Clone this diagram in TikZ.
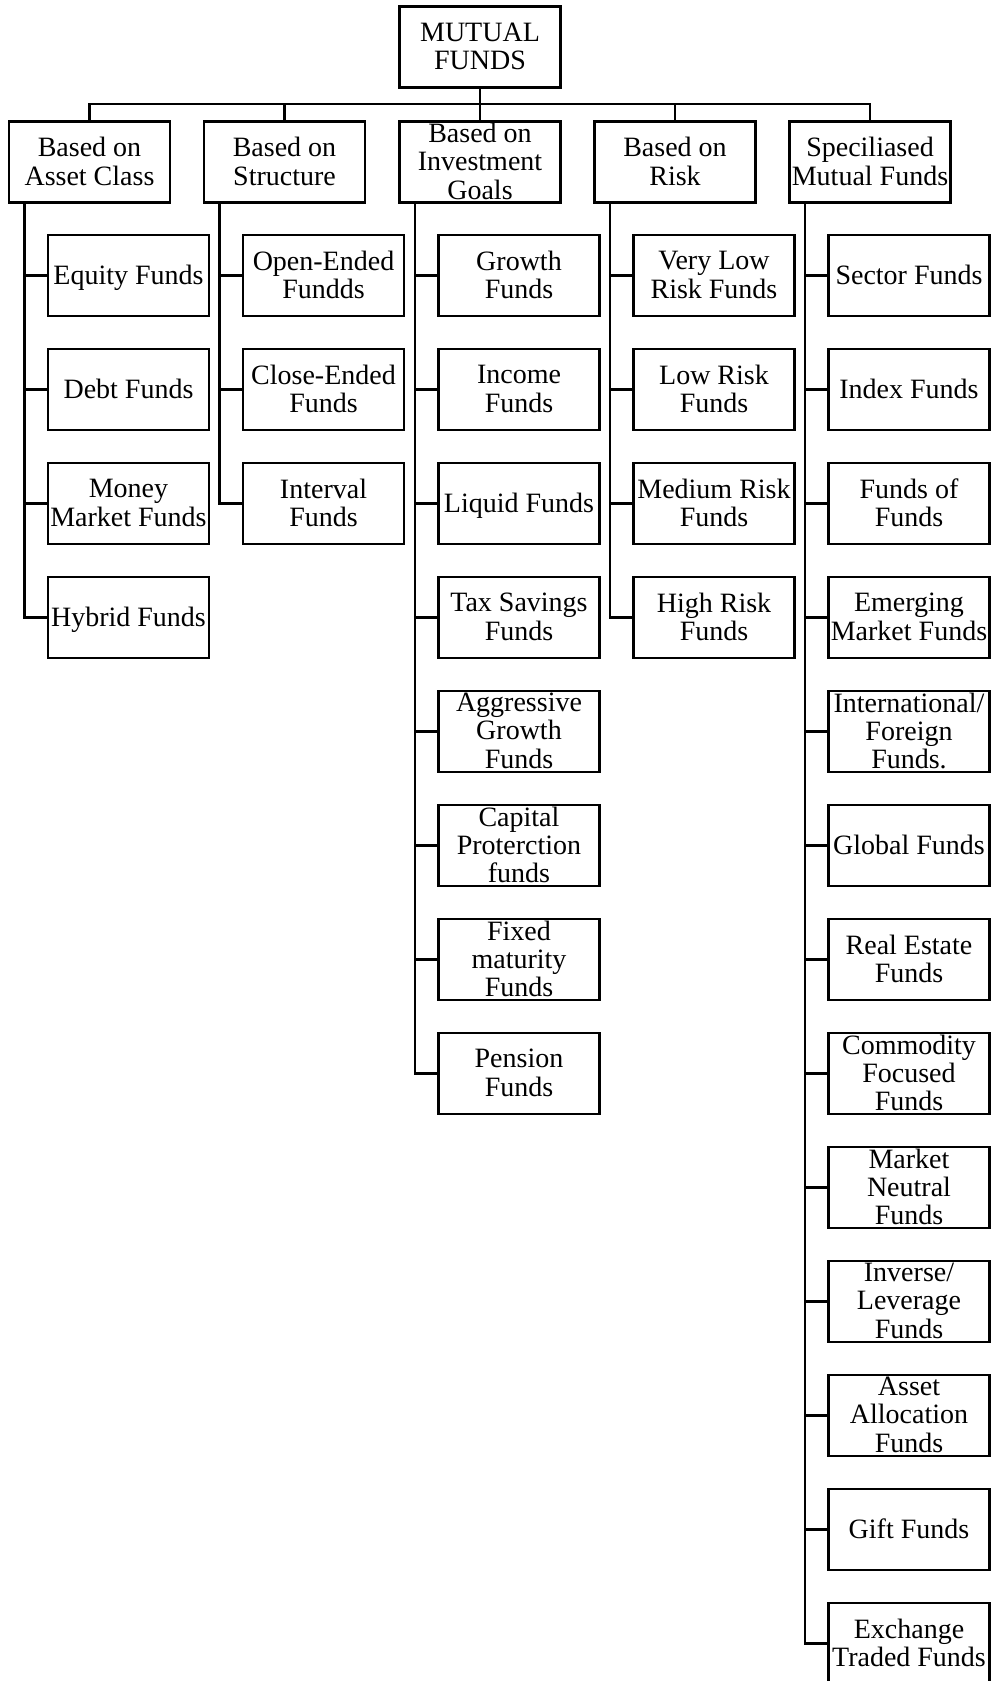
\documentclass[tikz,border=0pt]{standalone}
\usepackage{fontspec}
\setmainfont{Liberation Serif}
\newcommand{\fundlabel}[1]{\parbox[b]{80pt}{\centering #1}}

\begin{document}
\begin{tikzpicture}[x=0.5pt, y=-0.5pt,
    fund/.style={draw, line width=1.3pt, minimum width=80.5pt, minimum height=40.5pt,
                 inner sep=0pt, text depth=0.8pt, font=\fontsize{14}{14.2}\selectfont},
    link/.style={line width=1.3pt}]

    \useasboundingbox (0,0) rectangle (991,1681);

    % top box and bus
    \node[fund] (mf) at (480,47) {\fundlabel{MUTUAL\\FUNDS}};
    \coordinate (bus) at (480,104);

    % categories
    \node[fund] (ac) at (89.5,162) {\fundlabel{Based on\\Asset Class}};
    \node[fund] (st) at (284.5,162) {\fundlabel{Based on\\Structure}};
    \node[fund] (ig) at (480,162) {\fundlabel{Based on\\Investment\\Goals}};
    \node[fund] (rk) at (675,162) {\fundlabel{Based on\\Risk}};
    \node[fund] (sp) at (870,162) {\fundlabel{Speciliased\\Mutual Funds}};

    % asset class
    \node[fund] (ac1) at (128.5,275.5) {\fundlabel{Equity Funds}};
    \node[fund] (ac2) at (128.5,389.5) {\fundlabel{Debt Funds}};
    \node[fund] (ac3) at (128.5,503.5) {\fundlabel{Money\\Market Funds}};
    \node[fund] (ac4) at (128.5,617.5) {\fundlabel{Hybrid Funds}};

    % structure
    \node[fund] (st1) at (323.5,275.5) {\fundlabel{Open-Ended\\Fundds}};
    \node[fund] (st2) at (323.5,389.5) {\fundlabel{Close-Ended\\Funds}};
    \node[fund] (st3) at (323.5,503.5) {\fundlabel{Interval\\Funds}};

    % investment goals
    \node[fund] (ig1) at (519,275.5) {\fundlabel{Growth\\Funds}};
    \node[fund] (ig2) at (519,389.5) {\fundlabel{Income\\Funds}};
    \node[fund] (ig3) at (519,503.5) {\fundlabel{Liquid Funds}};
    \node[fund] (ig4) at (519,617.5) {\fundlabel{Tax Savings\\Funds}};
    \node[fund] (ig5) at (519,731.5) {\fundlabel{Aggressive\\Growth\\Funds}};
    \node[fund] (ig6) at (519,845.5) {\fundlabel{Capital\\Proterction\\funds}};
    \node[fund] (ig7) at (519,959.5) {\fundlabel{Fixed\\maturity\\Funds}};
    \node[fund] (ig8) at (519,1073.5) {\fundlabel{Pension\\Funds}};

    % risk
    \node[fund] (rk1) at (714,275.5) {\fundlabel{Very Low\\Risk Funds}};
    \node[fund] (rk2) at (714,389.5) {\fundlabel{Low Risk\\Funds}};
    \node[fund] (rk3) at (714,503.5) {\fundlabel{Medium Risk\\Funds}};
    \node[fund] (rk4) at (714,617.5) {\fundlabel{High Risk\\Funds}};

    % specialised
    \node[fund] (sp1) at (909,275.5) {\fundlabel{Sector Funds}};
    \node[fund] (sp2) at (909,389.5) {\fundlabel{Index Funds}};
    \node[fund] (sp3) at (909,503.5) {\fundlabel{Funds of\\Funds}};
    \node[fund] (sp4) at (909,617.5) {\fundlabel{Emerging\\Market Funds}};
    \node[fund] (sp5) at (909,731.5) {\fundlabel{International/\\Foreign\\Funds.}};
    \node[fund] (sp6) at (909,845.5) {\fundlabel{Global Funds}};
    \node[fund] (sp7) at (909,959.5) {\fundlabel{Real Estate\\Funds}};
    \node[fund] (sp8) at (909,1073.5) {\fundlabel{Commodity\\Focused\\Funds}};
    \node[fund] (sp9) at (909,1187.5) {\fundlabel{Market\\Neutral\\Funds}};
    \node[fund] (sp10) at (909,1301.5) {\fundlabel{Inverse/\\Leverage\\Funds}};
    \node[fund] (sp11) at (909,1415.5) {\fundlabel{Asset\\Allocation\\Funds}};
    \node[fund] (sp12) at (909,1529.5) {\fundlabel{Gift Funds}};
    \node[fund] (sp13) at (909,1643.5) {\fundlabel{Exchange\\Traded Funds}};

    % links
    \draw[link] (mf.south) -- (bus);
    \draw[link] (bus) -| (ac.north);
    \draw[link] (bus) -| (st.north);
    \draw[link] (bus) -| (ig.north);
    \draw[link] (bus) -| (rk.north);
    \draw[link] (bus) -| (sp.north);

    \draw[link] ([xshift=-32.5pt]ac.south) |- (ac1.west);
    \draw[link] ([xshift=-32.5pt]ac.south) |- (ac2.west);
    \draw[link] ([xshift=-32.5pt]ac.south) |- (ac3.west);
    \draw[link] ([xshift=-32.5pt]ac.south) |- (ac4.west);

    \draw[link] ([xshift=-32.5pt]st.south) |- (st1.west);
    \draw[link] ([xshift=-32.5pt]st.south) |- (st2.west);
    \draw[link] ([xshift=-32.5pt]st.south) |- (st3.west);

    \draw[link] ([xshift=-32.5pt]ig.south) |- (ig1.west);
    \draw[link] ([xshift=-32.5pt]ig.south) |- (ig2.west);
    \draw[link] ([xshift=-32.5pt]ig.south) |- (ig3.west);
    \draw[link] ([xshift=-32.5pt]ig.south) |- (ig4.west);
    \draw[link] ([xshift=-32.5pt]ig.south) |- (ig5.west);
    \draw[link] ([xshift=-32.5pt]ig.south) |- (ig6.west);
    \draw[link] ([xshift=-32.5pt]ig.south) |- (ig7.west);
    \draw[link] ([xshift=-32.5pt]ig.south) |- (ig8.west);

    \draw[link] ([xshift=-32.5pt]rk.south) |- (rk1.west);
    \draw[link] ([xshift=-32.5pt]rk.south) |- (rk2.west);
    \draw[link] ([xshift=-32.5pt]rk.south) |- (rk3.west);
    \draw[link] ([xshift=-32.5pt]rk.south) |- (rk4.west);

    \draw[link] ([xshift=-32.5pt]sp.south) |- (sp1.west);
    \draw[link] ([xshift=-32.5pt]sp.south) |- (sp2.west);
    \draw[link] ([xshift=-32.5pt]sp.south) |- (sp3.west);
    \draw[link] ([xshift=-32.5pt]sp.south) |- (sp4.west);
    \draw[link] ([xshift=-32.5pt]sp.south) |- (sp5.west);
    \draw[link] ([xshift=-32.5pt]sp.south) |- (sp6.west);
    \draw[link] ([xshift=-32.5pt]sp.south) |- (sp7.west);
    \draw[link] ([xshift=-32.5pt]sp.south) |- (sp8.west);
    \draw[link] ([xshift=-32.5pt]sp.south) |- (sp9.west);
    \draw[link] ([xshift=-32.5pt]sp.south) |- (sp10.west);
    \draw[link] ([xshift=-32.5pt]sp.south) |- (sp11.west);
    \draw[link] ([xshift=-32.5pt]sp.south) |- (sp12.west);
    \draw[link] ([xshift=-32.5pt]sp.south) |- (sp13.west);

\end{tikzpicture}
\end{document}
